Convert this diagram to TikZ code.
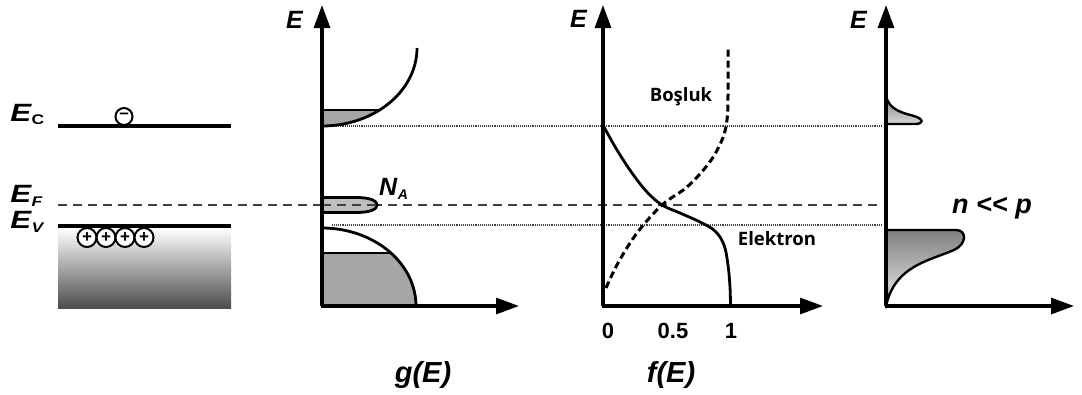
\documentclass[tikz,border=0pt]{standalone}
\usepackage{fontspec}
\setmainfont{Liberation Sans}
\newfontfamily\osans{Open Sans}
\usetikzlibrary{arrows.meta,calc}
\begin{document}
\begin{tikzpicture}[x=1pt,y=-1pt,
  axis/.style={line width=3.1pt,-{Triangle[length=23pt,width=16pt]}},
  band/.style={line width=3.6pt},
  curve/.style={line width=2.8pt},
  dcurve/.style={line width=3pt,dash pattern=on 7pt off 4pt},
  dotl/.style={line width=1.4pt,dash pattern=on 1pt off 0.9pt,black!75},
  fermi/.style={line width=1.8pt,dash pattern=on 9pt off 6pt,black!75},
  lab/.style={font=\fontsize{25}{25}\selectfont\bfseries\itshape,inner sep=0pt},
  leftlab/.style={font=\fontsize{25}{25}\selectfont\bfseries\itshape,inner sep=0pt,xscale=1.25},
  biglab/.style={font=\fontsize{29}{29}\selectfont\bfseries\itshape,inner sep=0pt},
  num/.style={font=\fontsize{22}{22}\selectfont\bfseries,inner sep=0pt},
  word/.style={font=\fontsize{18.5}{18.5}\selectfont\osans\bfseries,inner sep=0pt},
  carrier/.style={circle,draw,line width=2pt,fill=white,minimum size=19pt,inner sep=0pt,font=\fontsize{17}{17}\selectfont\bfseries},
  dosfill/.style={fill=black!35}]
\useasboundingbox (0,0) rectangle (1082,394);

% ---------- left band diagram ----------
\shade[top color=white,bottom color=black!70] (58,228) rectangle (231,308);
\draw[band] (58,126) -- (231,126);
\draw[band] (58,226) -- (231,226);
\node[carrier,minimum size=17pt] (el) at (124,116.5) {\raisebox{1pt}{--}};
\node[carrier] (h1) at (87,237.5) {+};
\node[carrier] (h2) at (106,237.5) {+};
\node[carrier] (h3) at (125,237.5) {+};
\node[carrier] (h4) at (144,237.5) {+};
\node[leftlab,anchor=base west] (Ec) at (10,121) {E\kern0.5pt{\fontsize{14}{14}\selectfont\raisebox{-3pt}{\upshape C}}};
\node[leftlab,anchor=base west] (Ef) at (10,202) {E\kern0.5pt{\fontsize{14}{14}\selectfont\raisebox{-4pt}{F}}};
\node[leftlab,anchor=base west] (Ev) at (10,228) {E\kern0.5pt{\fontsize{14}{14}\selectfont\raisebox{-4pt}{V}}};

% ---------- reference lines ----------
\coordinate (efL) at (58,205);
\coordinate (efR) at (882,205);
\draw[fermi] (efL) -- (efR);
\coordinate (ecL) at (332,126);
\coordinate (ecR) at (882,126);
\coordinate (evL) at (332,225);
\coordinate (evR) at (882,225);
\draw[dotl] (ecL) -- (ecR);
\draw[dotl] (evL) -- (evR);

% ---------- g(E) panel ----------
\coordinate (g0) at (322,306);
\coordinate (gE) at (322,5);
\coordinate (gX) at (519,306);
% conduction band DOS
\fill[dosfill] (322,110) -- plot[domain=37.4:0,samples=20] ({322+95*sin(\x)},{48+78*cos(\x)}) -- cycle;
\draw[line width=2.2pt] (322,110) -- ({322+95*sin(37.4)},110);
\draw[curve] plot[domain=0:90,samples=40] ({322+95*sin(\x)},{48+78*cos(\x)});
% valence band DOS
\fill[dosfill] (322,253) -- plot[domain=47.2:90,samples=20] ({322+94*sin(\x)},{306-78*cos(\x)}) -- (322,306) -- cycle;
\draw[line width=2.2pt] (322,253) -- ({322+94*sin(47.2)},253);
\draw[curve] plot[domain=0:90,samples=40] ({322+94*sin(\x)},{306-78*cos(\x)});
% acceptor level
\draw[curve,fill=black!25] (322,197.5) -- (356,197.5) .. controls (371,197.5) and (377,201) .. (377,205)
  .. controls (377,209) and (371,212.5) .. (356,212.5) -- (322,212.5);
\draw[fermi] (322,205) -- (378,205);
\draw[axis] (g0) -- (gE);
\draw[axis] ($(g0)+(-1.5,0)$) -- (gX);
\node[lab,anchor=base west] (gElab) at (286,28) {E};
\node[lab,anchor=base west] (NA) at (379,195) {N\kern0.5pt{\fontsize{14}{14}\selectfont\raisebox{-4pt}{A}}};
\node[biglab,anchor=base] (gof) at (423,382) {g(E)};

% ---------- f(E) panel ----------
\coordinate (f0) at (603,306);
\coordinate (fE) at (603,5);
\coordinate (fX) at (823,306);
\draw[curve,line cap=round] plot[smooth,tension=0.6] coordinates {(604,127) (617,150) (632,173) (647,192) (662,205) (680,213) (700,222) (715,231) (724,245) (728,265) (730,287) (730.5,306)};
\draw[dcurve] plot[smooth,tension=0.6] coordinates {(606,288) (618,263) (637,233) (662,205) (687,187) (709,163) (722,140) (727,120) (728,95) (728,48)};
\draw[axis] (f0) -- (fE);
\draw[axis] ($(f0)+(-1.5,0)$) -- (fX);
\node[lab,anchor=base west] (fElab) at (570,27) {E};
\node[num,anchor=base] (n0) at (608,338) {0};
\node[num,anchor=base] (n05) at (673,338) {0.5};
\node[num,anchor=base] (n1) at (731,338) {1};
\node[biglab,anchor=base] (fof) at (671,382) {f(E)};
\node[word] (bos) at (681,97) {Boşluk};
\node[word] (elk) at (777,239) {Elektron};

% ---------- carrier distribution panel ----------
\coordinate (c0) at (886,306);
\coordinate (cE) at (886,5);
\coordinate (cX) at (1074,306);
\shade[top color=black!50,bottom color=black!15,draw=black,line width=2.4pt]
  (886,96) .. controls (889,110) and (903,113) .. (914,116) .. controls (924,119) and (924,124) .. (915,124) -- (886,124) -- cycle;
\shade[top color=black!50,bottom color=black!10,draw=black,line width=2.4pt]
  (886,230) -- (956,230) .. controls (967,230) and (967,244) .. (954,250) .. controls (928,261) and (897,266) .. (887,302) -- cycle;
\draw[axis] (c0) -- (cE);
\draw[axis] ($(c0)+(-1.5,0)$) -- (cX);
\node[lab,anchor=base west] (cElab) at (850,28) {E};
\node[font=\fontsize{27}{27}\selectfont\bfseries\itshape,inner sep=0pt,anchor=base] (nlp) at (992,213) {n <{}< p};
\end{tikzpicture}
\end{document}
